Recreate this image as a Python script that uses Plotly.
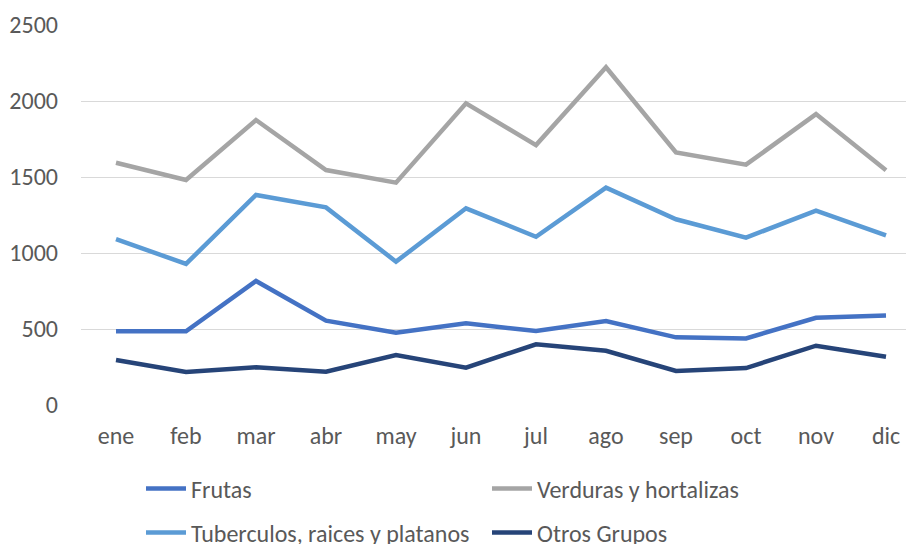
import plotly.graph_objects as go

meses = ["ene", "feb", "mar", "abr", "may", "jun", "jul", "ago", "sep", "oct", "nov", "dic"]
frutas = [485, 485, 816, 555, 476, 537, 487, 553, 445, 438, 574, 588]
verduras = [1594, 1480, 1875, 1546, 1463, 1985, 1710, 2222, 1662, 1581, 1914, 1544]
tuberculos = [1092, 928, 1382, 1300, 943, 1294, 1107, 1430, 1222, 1101, 1279, 1116]
otros = [296, 217, 248, 219, 329, 246, 399, 357, 224, 243, 390, 318]
y_ticks = [0, 500, 1000, 1500, 2000, 2500]

FONT = "Carlito, Calibri, Lato, sans-serif"
TXT = "#595959"
FS = 24

# The page body has an 8px margin, so the figure is sized to the visible area.
W, H = 906, 536

fig = go.Figure()
series = [
    ("Frutas", frutas, "#4472C4", "legend"),
    ("Verduras y hortalizas", verduras, "#A5A5A5", "legend"),
    ("Tuberculos, raices y platanos", tuberculos, "#5B9BD5", "legend2"),
    ("Otros Grupos", otros, "#264478", "legend2"),
]
for name, vals, col, lg in series:
    fig.add_trace(go.Scatter(x=meses, y=vals, name=name, mode="lines",
                             line=dict(color=col, width=4.5), legend=lg))

legend_style = dict(orientation="h", xanchor="left", yanchor="middle",
                    entrywidth=291, entrywidthmode="pixels",
                    font=dict(family=FONT, size=FS, color=TXT),
                    bgcolor="rgba(0,0,0,0)", itemwidth=40, tracegroupgap=0)

fig.update_layout(
    width=W, height=H,
    margin=dict(l=73, r=0, t=17, b=139, autoexpand=False),
    paper_bgcolor="white", plot_bgcolor="white",
    font=dict(family=FONT, size=FS, color=TXT),
    showlegend=True,
    legend=dict(x=133 / W, y=(H - 481) / H, xref="container", yref="container", **legend_style),
    legend2=dict(x=133 / W, y=(H - 525) / H, xref="container", yref="container", **legend_style),
)
fig.update_xaxes(type="category", range=[-0.5, 11.4], showgrid=False, showline=False,
                 ticks="", tickfont=dict(family=FONT, size=FS, color=TXT),
                 ticklabelstandoff=14, automargin=False)
fig.update_yaxes(range=[0, 2500], tickvals=y_ticks, showgrid=True, gridcolor="#D9D9D9",
                 gridwidth=1.3, zeroline=False, showline=False, ticks="",
                 tickfont=dict(family=FONT, size=FS, color=TXT), ticklabelstandoff=22,
                 automargin=False)

fig.write_html("out.html")
